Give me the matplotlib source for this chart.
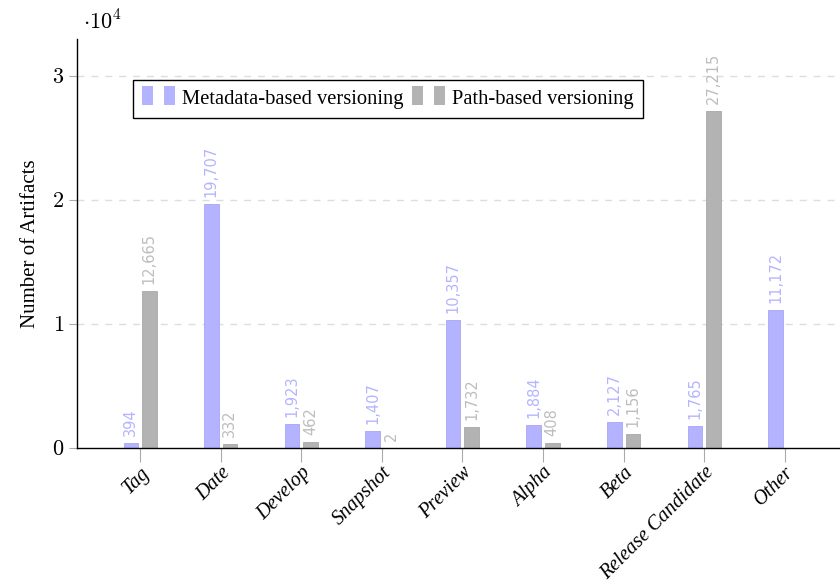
import matplotlib
matplotlib.use("Agg")
import matplotlib.pyplot as plt
import numpy as np
from matplotlib.patches import Rectangle
from matplotlib.legend_handler import HandlerBase
from matplotlib.ticker import FixedLocator, FuncFormatter

categories = ["Tag", "Date", "Develop", "Snapshot", "Preview", "Alpha", "Beta",
              "Release Candidate", "Other"]
metadata_vals = [394, 19707, 1923, 1407, 10357, 1884, 2127, 1765, 11172]
path_vals = [12665, 332, 462, 2, 1732, 408, 1156, 27215, 0]
series_names = ["Metadata-based versioning", "Path-based versioning"]

plt.rcParams["font.family"] = ["Liberation Serif", "DejaVu Serif"]
plt.rcParams["mathtext.fontset"] = "cm"

BLUE = "#b3b3ff"
GRAY = "#b3b3b3"
BLUE_EDGE = "#a6a6f2"
GRAY_EDGE = "#a8a8a8"

fig = plt.figure(figsize=(8.4, 5.83), dpi=100)
ax = fig.add_axes([77/840, 1-448/583, 1-77/840, (448-39)/583])

x = np.arange(len(categories))
w = 0.18
off = 0.115
b1 = ax.bar(x - off, metadata_vals, w, color=BLUE, edgecolor=BLUE_EDGE, linewidth=0.6, zorder=3)
b2 = ax.bar(x + off, [v if v > 0 else np.nan for v in path_vals], w, color=GRAY,
            edgecolor=GRAY_EDGE, linewidth=0.6, zorder=3)

def add_labels(xs, vals, color):
    for xi, v in zip(xs, vals):
        if v <= 0:
            continue
        ax.annotate(f"{v:,}", (xi, v), xytext=(0, 5), textcoords="offset points",
                    rotation=90, ha="center", va="bottom", color=color,
                    fontsize=10.5, family="DejaVu Sans", zorder=4)

add_labels(x - off, metadata_vals, "#b4b4ff")
add_labels(x + off, path_vals, "#bdbdbd")

ax.set_xlim(-0.782, 8.685)
ax.set_ylim(0, 33000)

ax.yaxis.set_major_locator(FixedLocator([0, 10000, 20000, 30000]))
ax.yaxis.set_major_formatter(FuncFormatter(lambda v, p: f"${int(round(v/10000))}$"))
ax.tick_params(axis="y", labelsize=16, length=6, color="#aaaaaa", width=0.8, pad=3)
ax.set_xticks(x)
ax.set_xticklabels(categories, rotation=45, ha="right", va="top",
                   rotation_mode="anchor", fontsize=14.5, fontstyle="italic")
ax.tick_params(axis="x", length=10, color="#aaaaaa", width=0.8, pad=1)

for yv in [10000, 20000, 30000]:
    ax.axhline(yv, color="#dddddd", linestyle=(0, (5, 5)), linewidth=1.0, zorder=1)

for s in ["top", "right"]:
    ax.spines[s].set_visible(False)
ax.spines["left"].set_linewidth(1.0)
ax.spines["bottom"].set_linewidth(1.0)
ax.spines["left"].set_zorder(5)
ax.spines["bottom"].set_zorder(5)

ax.set_ylabel("Number of Artifacts", fontsize=15, labelpad=9)

fig.text(83/840, 1-22/583, r"$\cdot 10^4$", fontsize=16, ha="left", va="center")


class TwoBarHandler(HandlerBase):
    def create_artists(self, legend, orig_handle, xdescent, ydescent, width, height,
                       fontsize, trans):
        c = orig_handle.get_facecolor()
        bw = width * 0.33
        h = height * 1.3
        y0 = -ydescent + (height - h) / 2 + height * 0.05
        r1 = Rectangle((-xdescent, y0), bw, h, facecolor=c, edgecolor="none", transform=trans)
        r2 = Rectangle((-xdescent + width - bw, y0), bw, h, facecolor=c, edgecolor="none",
                       transform=trans)
        return [r1, r2]


h1 = Rectangle((0, 0), 1, 1, facecolor=BLUE)
h2 = Rectangle((0, 0), 1, 1, facecolor=GRAY)
leg = fig.legend([h1, h2], series_names, loc="upper left",
                 bbox_to_anchor=(133/840, 1-80/583), ncol=2, fontsize=14.8,
                 handler_map={Rectangle: TwoBarHandler()}, frameon=True, fancybox=False,
                 edgecolor="black", framealpha=1, handlelength=1.6, handletextpad=0.35,
                 columnspacing=0.4, borderpad=0.45, borderaxespad=0)
leg.get_frame().set_linewidth(1.0)

fig.savefig("out.png", dpi=100)
